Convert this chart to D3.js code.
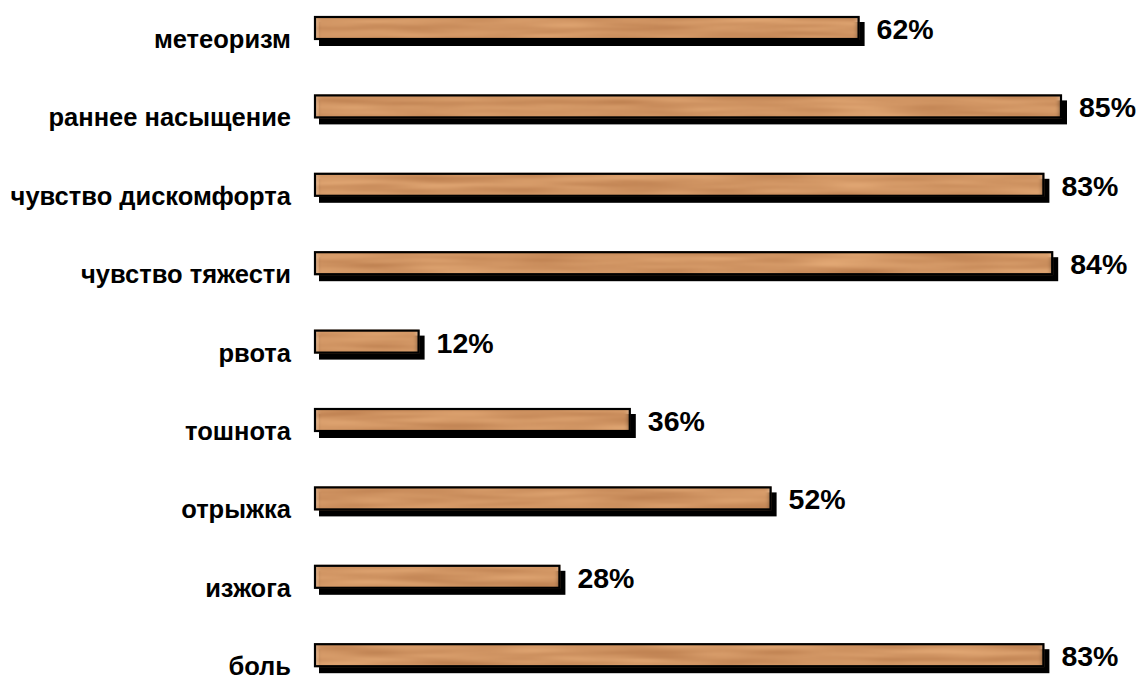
<!DOCTYPE html>
<html>
<head>
<meta charset="utf-8">
<script src="https://cdn.jsdelivr.net/npm/d3@7"></script>
<style>
  html, body { margin: 0; padding: 0; background: #fff; }
  svg { display: block; }
</style>
</head>
<body>
<svg id="chart" width="1140" height="675"></svg>
<script>
// Symptom frequency, percent of patients
const categories = [
  "метеоризм",
  "раннее насыщение",
  "чувство дискомфорта",
  "чувство тяжести",
  "рвота",
  "тошнота",
  "отрыжка",
  "изжога",
  "боль"
];
const values = [62, 85, 83, 84, 12, 36, 52, 28, 83];
const valueLabels = values.map(v => v + "%");

const svg = d3.select("#chart");

const x = d3.scaleLinear().domain([0, 100]).range([314, 1194]);
const y = d3.scalePoint().domain(categories).range([28, 655.2]);

const barH = 24;
const shadowDx = 5, shadowDy = 6;

// Wood-grain fill: stretched fractal noise tinted tan, softened
const defs = svg.append("defs");
const f = defs.append("filter")
  .attr("id", "wood")
  .attr("x", 0).attr("y", 0).attr("width", 1).attr("height", 1)
  .attr("color-interpolation-filters", "sRGB");
f.append("feTurbulence")
  .attr("type", "fractalNoise")
  .attr("baseFrequency", "0.01 0.16")
  .attr("numOctaves", 2)
  .attr("seed", 7)
  .attr("result", "noise");
f.append("feColorMatrix")
  .attr("in", "noise")
  .attr("type", "matrix")
  .attr("values",
    "0.20 0 0 0 0.715 " +
    "0.22 0 0 0 0.47 " +
    "0.20 0 0 0 0.285 " +
    "0 0 0 0 1")
  .attr("result", "tint");
f.append("feGaussianBlur").attr("in", "tint").attr("stdDeviation", "3 1").attr("edgeMode", "duplicate").attr("result", "soft");
f.append("feComposite").attr("in", "soft").attr("in2", "SourceGraphic").attr("operator", "in");

const rows = svg.append("g").selectAll("g.row")
  .data(categories.map((c, i) => ({ c, v: values[i], label: valueLabels[i] })))
  .join("g")
  .attr("class", "row");

// drop shadow
rows.append("rect")
  .attr("x", d => x(0) + shadowDx)
  .attr("y", d => y(d.c) - barH / 2 + shadowDy)
  .attr("width", d => x(d.v) - x(0))
  .attr("height", barH)
  .attr("fill", "#000");

// wood fill
rows.append("rect")
  .attr("x", d => x(0))
  .attr("y", d => y(d.c) - barH / 2)
  .attr("width", d => x(d.v) - x(0))
  .attr("height", barH)
  .attr("fill", "#d09462")
  .attr("filter", "url(#wood)");

// outline
rows.append("rect")
  .attr("x", d => x(0) + 1)
  .attr("y", d => y(d.c) - barH / 2 + 1)
  .attr("width", d => x(d.v) - x(0) - 2)
  .attr("height", barH - 2)
  .attr("fill", "none")
  .attr("stroke", "#000")
  .attr("stroke-width", 2.2);

// category labels
rows.append("text")
  .attr("x", 291)
  .attr("y", d => y(d.c) + 20)
  .attr("text-anchor", "end")
  .attr("font-family", "'Liberation Sans', Arial, sans-serif")
  .attr("font-weight", "bold")
  .attr("font-size", 25.5)
  .attr("fill", "#000")
  .text(d => d.c);

// value labels
rows.append("text")
  .attr("x", d => x(d.v) + 17)
  .attr("y", d => y(d.c) + 11)
  .attr("font-family", "'Liberation Sans', Arial, sans-serif")
  .attr("font-weight", "bold")
  .attr("font-size", 28.5)
  .attr("fill", "#000")
  .text(d => d.label);
</script>
</body>
</html>
